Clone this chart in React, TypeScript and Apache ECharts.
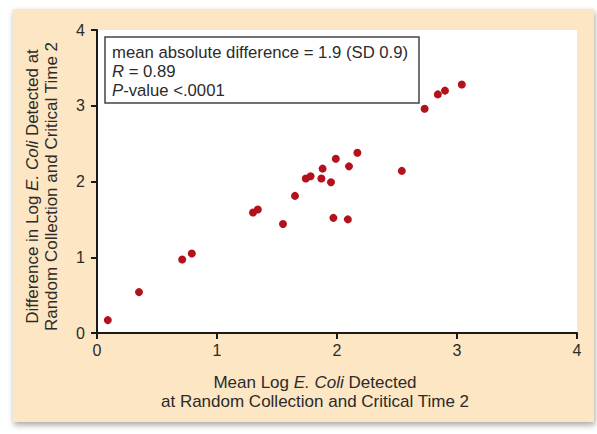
import React, { useEffect, useRef } from "react";
import * as echarts from "echarts";

const meanLogEColi = [0.09, 0.35, 0.71, 0.79, 1.3, 1.34, 1.55, 1.65, 1.74, 1.78, 1.87, 1.88, 1.95, 1.97, 1.99, 2.09, 2.1, 2.17, 2.54, 2.73, 2.84, 2.9, 3.04];
const diffLogEColi = [0.17, 0.54, 0.97, 1.05, 1.59, 1.63, 1.44, 1.81, 2.04, 2.07, 2.04, 2.17, 1.99, 1.52, 2.3, 1.5, 2.2, 2.38, 2.14, 2.96, 3.15, 3.2, 3.28];
const xTicks = [0, 1, 2, 3, 4];
const yTicks = [0, 1, 2, 3, 4];
const statLines = [
  "mean absolute difference = 1.9 (SD 0.9)",
  "{i|R} = 0.89",
  "{i|P}-value <.0001",
];

const FONT = "'Liberation Sans', Arial, Helvetica, sans-serif";
const INK = "#2b2b2b";

export default function App() {
  const ref = useRef<HTMLDivElement>(null);
  useEffect(() => {
    if (!ref.current) return;
    const chart = echarts.init(ref.current, undefined, { renderer: "svg" });
    const points = meanLogEColi.map((x, i) => [x, diffLogEColi[i]]);
    const axisCommon = {
      min: xTicks[0],
      max: xTicks[xTicks.length - 1],
      interval: 1,
      axisLine: { show: true, onZero: false, lineStyle: { color: "#1a1a1a", width: 2 } },
      axisTick: { show: true, inside: false, length: 6, lineStyle: { color: "#1a1a1a", width: 2 } },
      splitLine: { show: false },
      axisLabel: { color: INK, fontSize: 16, fontFamily: FONT },
    };
    const richItalic = (size: number) => ({
      i: { fontStyle: "italic", fontSize: size, fontFamily: FONT, color: INK, lineHeight: 19 },
    });
    chart.setOption({
      animation: false,
      backgroundColor: "transparent",
      graphic: [
        {
          type: "rect",
          z: 100,
          shape: { x: 105, y: 37, width: 314, height: 66 },
          style: { fill: "#fff", stroke: "#444", lineWidth: 1.5 },
        },
        {
          type: "text",
          z: 101,
          x: 112,
          y: 43,
          style: {
            text: statLines.join("\n"),
            fontSize: 16.7,
            fontFamily: FONT,
            fill: INK,
            lineHeight: 19,
            rich: {
              i: { fontStyle: "italic", fontSize: 16.7, fontFamily: FONT, fill: INK, lineHeight: 19 },
            },
          },
        },
      ],
      grid: {
        left: 97,
        right: 20,
        top: 30,
        bottom: 101,
        show: true,
        backgroundColor: "#ffffff",
        borderWidth: 0,
      },
      xAxis: {
        type: "value",
        ...axisCommon,
        axisLabel: { ...axisCommon.axisLabel, margin: 9 },
        name: "Mean Log {i|E. Coli} Detected\nat Random Collection and Critical Time 2",
        nameLocation: "middle",
        nameGap: 40,
        nameTextStyle: {
          color: INK,
          fontSize: 17,
          fontFamily: FONT,
          lineHeight: 19,
          verticalAlign: "top",
          padding: [0, 44, 0, 0],
          rich: richItalic(17),
        },
      },
      yAxis: {
        type: "value",
        ...axisCommon,
        min: yTicks[0],
        max: yTicks[yTicks.length - 1],
        axisLabel: { ...axisCommon.axisLabel, margin: 12 },
        name: "Difference in Log {i|E. Coli} Detected at\nRandom Collection and Critical Time 2",
        nameLocation: "middle",
        nameRotate: 90,
        nameGap: 36,
        nameTextStyle: {
          color: INK,
          fontSize: 17,
          fontFamily: FONT,
          lineHeight: 19,
          padding: [0, 10, 0, 0],
          rich: richItalic(17),
        },
      },
      series: [
        {
          type: "scatter",
          data: points,
          symbol: "circle",
          symbolSize: 8,
          itemStyle: { color: "#B3121C", opacity: 1 },
        },
      ],
    });
    return () => chart.dispose();
  }, []);
  return (
    <div style={{ position: "fixed", left: 0, top: 0, width: 597, height: 434, background: "#fff" }}>
      <div
        style={{
          position: "absolute",
          left: 13,
          top: 9,
          width: 581,
          height: 413,
          background: "#FDE6C3",
          boxShadow: "1px 3px 6px rgba(0,0,0,0.35)",
        }}
      />
      <div ref={ref} style={{ position: "absolute", left: 0, top: 0, width: 597, height: 434 }} />
    </div>
  );
}
